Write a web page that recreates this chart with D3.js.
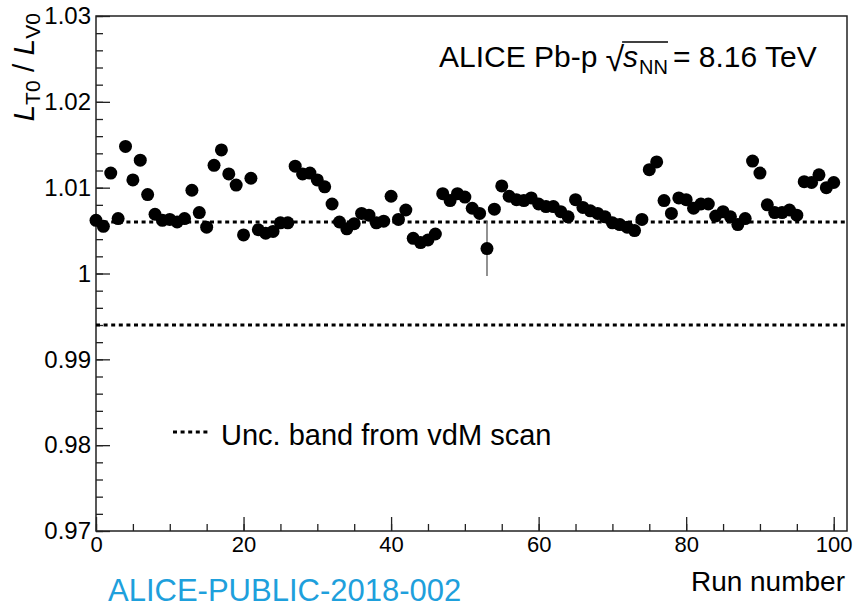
<!DOCTYPE html>
<html>
<head>
<meta charset="utf-8">
<script src="https://cdn.jsdelivr.net/npm/d3@7"></script>
<style>
  body { margin: 0; background: #fff; }
  text { font-family: "Liberation Sans", Arial, sans-serif; fill: #000; }
</style>
</head>
<body>
<svg id="chart" width="853" height="609"></svg>
<script>
// run-by-run ratio L_T0 / L_V0
var runs = d3.range(0, 101);
var ratio = [
  1.0062, 1.0055, 1.0117, 1.0064, 1.0148, 1.0109, 1.0132, 1.0092, 1.0069, 1.0062,
  1.0063, 1.0060, 1.0064, 1.0097, 1.0071, 1.0054, 1.0126, 1.0144, 1.0116, 1.0103,
  1.0045, 1.0111, 1.0051, 1.0047, 1.0049, 1.0059, 1.0059, 1.0125, 1.0116, 1.0117,
  1.0109, 1.0101, 1.0081, 1.0060, 1.0052, 1.0058, 1.0070, 1.0068, 1.0059, 1.0061,
  1.0090, 1.0063, 1.0074, 1.0041, 1.0036, 1.0039, 1.0046, 1.0093, 1.0085, 1.0093,
  1.0089, 1.0076, 1.0070, 1.0029, 1.0075, 1.0102, 1.0090, 1.0086, 1.0085, 1.0088,
  1.0081, 1.0078, 1.0078, 1.0072, 1.0066, 1.0086, 1.0077, 1.0073, 1.0070, 1.0066,
  1.0059, 1.0057, 1.0054, 1.0050, 1.0063, 1.0121, 1.0130, 1.0085, 1.0070, 1.0088,
  1.0086, 1.0076, 1.0081, 1.0081, 1.0067, 1.0072, 1.0066, 1.0057, 1.0064, 1.0131,
  1.0117, 1.0080, 1.0071, 1.0071, 1.0074, 1.0068, 1.0107, 1.0106, 1.0115, 1.0100,
  1.0106
];
// only one run has a visible error bar
var errRun = 53, errVal = 0.0032;
var band = [0.994, 1.006];
var xTicks = [0, 20, 40, 60, 80, 100];
var yTicks = [0.97, 0.98, 0.99, 1, 1.01, 1.02, 1.03];

var svg = d3.select("#chart");
var xMax = 101.8;

var x = d3.scaleLinear().domain([0, xMax]).range([96, 847]);
var y = d3.scaleLinear().domain([0.97, 1.03]).range([531, 16]);

// frame
svg.append("rect")
  .attr("x", x(0)).attr("y", y(1.03))
  .attr("width", x(xMax) - x(0)).attr("height", y(0.97) - y(1.03))
  .attr("fill", "none").attr("stroke", "#222").attr("stroke-width", 1.5);

// y axis, ticks point inward
svg.append("g")
  .attr("transform", "translate(" + x(0) + ",0)")
  .call(d3.axisLeft(y).tickValues(d3.range(0.97, 1.0301, 0.002)).tickSize(-7).tickFormat(""))
  .call(function(g) { g.select(".domain").remove(); g.selectAll("line").attr("stroke", "#222").attr("stroke-width", 1.3); });

svg.append("g")
  .attr("transform", "translate(" + x(0) + ",0)")
  .call(d3.axisLeft(y).tickValues(yTicks).tickSize(-14).tickFormat(d3.format("~g")))
  .call(function(g) {
    g.select(".domain").remove();
    g.selectAll("line").attr("stroke", "#222").attr("stroke-width", 1.3);
    g.selectAll("text").attr("x", -5).style("font-size", "24px").style("font-family", "Liberation Sans, Arial, sans-serif").attr("fill", "#000");
  });

// x axis
svg.append("g")
  .attr("transform", "translate(0," + y(0.97) + ")")
  .call(d3.axisBottom(x).tickValues(d3.range(0, 101, 5)).tickSize(-7).tickFormat(""))
  .call(function(g) { g.select(".domain").remove(); g.selectAll("line").attr("stroke", "#222").attr("stroke-width", 1.3); });

svg.append("g")
  .attr("transform", "translate(0," + y(0.97) + ")")
  .call(d3.axisBottom(x).tickValues(xTicks).tickSize(-14).tickFormat(d3.format("d")))
  .call(function(g) {
    g.select(".domain").remove();
    g.selectAll("line").attr("stroke", "#222").attr("stroke-width", 1.3);
    g.selectAll("text").attr("y", 5).style("font-size", "22px").style("font-family", "Liberation Sans, Arial, sans-serif").attr("fill", "#000");
  });

// dotted band lines
svg.selectAll(".band")
  .data(band).enter().append("line")
  .attr("x1", x(0)).attr("x2", x(xMax))
  .attr("y1", function(d) { return y(d); })
  .attr("y2", function(d) { return y(d); })
  .attr("stroke", "#000").attr("stroke-width", 3)
  .attr("stroke-dasharray", "4,3.6");

// error bar
svg.append("line")
  .attr("x1", x(errRun)).attr("x2", x(errRun))
  .attr("y1", y(ratio[errRun] - errVal)).attr("y2", y(ratio[errRun] + errVal))
  .attr("stroke", "#777").attr("stroke-width", 1.6);

// points
svg.selectAll(".pt")
  .data(runs).enter().append("circle")
  .attr("cx", function(d) { return x(d); })
  .attr("cy", function(d) { return y(ratio[d]); })
  .attr("r", 6.5)
  .attr("fill", "#000");

// legend
svg.append("line")
  .attr("x1", 173).attr("x2", 208).attr("y1", 432).attr("y2", 432)
  .attr("stroke", "#000").attr("stroke-width", 3).attr("stroke-dasharray", "4,3.6");
svg.append("text").attr("x", 221).attr("y", 445)
  .style("font-size", "29px").text("Unc. band from vdM scan");

// header label: ALICE Pb-p sqrt(s_NN) = 8.16 TeV
var hx = 439, hy = 67, fs = 30;
var t1 = svg.append("text").attr("x", hx).attr("y", hy).style("font-size", fs + "px").text("ALICE Pb-p");
var cx0 = hx + t1.node().getComputedTextLength() + 8;
var rad = svg.append("text").attr("x", cx0).attr("y", hy + 4).style("font-size", (fs + 4) + "px").text("√");
var cx1 = cx0 + rad.node().getComputedTextLength() - 1;
var s = svg.append("text").attr("x", cx1).attr("y", hy).style("font-size", fs + "px").style("font-style", "italic").text("s");
var cx2 = cx1 + s.node().getComputedTextLength() + 1;
var nn = svg.append("text").attr("x", cx2).attr("y", hy + 7).style("font-size", "20px").text("NN");
var cx3 = cx2 + nn.node().getComputedTextLength();
svg.append("line").attr("x1", cx1 - 1).attr("x2", cx3).attr("y1", hy - 25).attr("y2", hy - 25)
  .attr("stroke", "#000").attr("stroke-width", 1.4);
svg.append("text").attr("x", cx3 + 5).attr("y", hy).style("font-size", fs + "px").text("= 8.16 TeV");

// y axis title
var yt = svg.append("text")
  .attr("transform", "translate(34,13) rotate(-90)")
  .attr("text-anchor", "end")
  .style("font-size", "30px");
yt.append("tspan").style("font-style", "italic").text("L");
yt.append("tspan").attr("dy", 6).style("font-size", "21px").text("T0");
yt.append("tspan").attr("dy", -6).text(" / ");
yt.append("tspan").style("font-style", "italic").text("L");
yt.append("tspan").attr("dy", 6).style("font-size", "21px").text("V0");

// x axis title
svg.append("text").attr("x", 845).attr("y", 591)
  .attr("text-anchor", "end").style("font-size", "28px").text("Run number");

// document id
svg.append("text").attr("x", 108).attr("y", 601)
  .style("font-size", "31px").style("fill", "#1ea0dc").text("ALICE-PUBLIC-2018-002");
</script>
</body>
</html>
